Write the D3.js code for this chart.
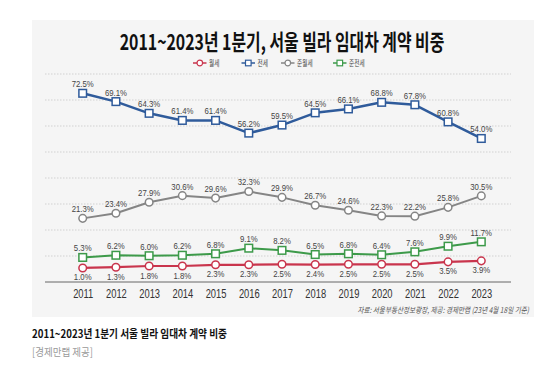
<!DOCTYPE html>
<html><head><meta charset="utf-8">
<script src="https://cdn.jsdelivr.net/npm/d3@7"></script>
<style>html,body{margin:0;padding:0;background:#fff;}svg{display:block;}</style>
</head><body>
<svg id="c" width="551" height="367"></svg>
<script>
const years = ["2011","2012","2013","2014","2015","2016","2017","2018","2019","2020","2021","2022","2023"];
const seriesNames = ["월세","전세","준월세","준전세"];
const wolse = [1.0,1.3,1.8,1.8,2.3,2.3,2.5,2.4,2.5,2.5,2.5,3.5,3.9];
const jeonse = [72.5,69.1,64.3,61.4,61.4,56.2,59.5,64.5,66.1,68.8,67.8,60.8,54.0];
const junwolse = [21.3,23.4,27.9,30.6,29.6,32.3,29.9,26.7,24.6,22.3,22.2,25.8,30.5];
const junjeonse = [5.3,6.2,6.0,6.2,6.8,9.1,8.2,6.5,6.8,6.4,7.6,9.9,11.7];
const title = "2011~2023년 1분기, 서울 빌라 임대차 계약 비중";
const sourceText = "자료: 서울부동산정보광장, 제공: 경제만랩 (23년 4월 18일 기준)";
const caption = "2011~2023년 1분기 서울 빌라 임대차 계약 비중";
const credit = "[경제만랩 제공]";

const series = [
  {name: seriesNames[0], values: wolse, color: "#c9354d", shape: "circle", below: true, lw: 2.2},
  {name: seriesNames[1], values: jeonse, color: "#2f5b9b", shape: "square", below: false, lw: 2.5},
  {name: seriesNames[2], values: junwolse, color: "#858585", shape: "circle", below: false, lw: 2},
  {name: seriesNames[3], values: junjeonse, color: "#3d9a4a", shape: "square", below: false, lw: 2}
];

const svg = d3.select("#c");
const KR = "'Noto Sans CJK KR','Noto Sans',sans-serif";
const NUM = "'Liberation Sans',Arial,sans-serif";

// fit a text to a target width by horizontal scaling (anchor-aware)
function fitText(sel, px, py, target) {
  const w = sel.node().getComputedTextLength();
  const k = w > 0 ? target / w : 1;
  sel.attr("x",0).attr("y",0).attr("transform",`translate(${px},${py}) scale(${k},1)`);
}

// panel
svg.append("rect").attr("x",32).attr("y",20).attr("width",502).attr("height",297).attr("fill","#f5f5f5");

// title
const tt = svg.append("text").attr("text-anchor","middle")
  .attr("font-family",KR).attr("font-weight",700).attr("font-size",21.5).attr("fill","#111").text(title);
fitText(tt, 282, 50, 325);

// scales
const x = d3.scalePoint().domain(years).range([82.7,481.3]);
const y = d3.scaleLinear().domain([-4.75,80.4]).range([282,74]);
const d0 = y.domain()[0], d1 = y.domain()[1];
const gridVals = d3.range(9).map(i => d0 + i*(d1-d0)/8);

// grid
svg.append("g").selectAll("line").data(gridVals.slice(1)).join("line")
  .attr("x1",45).attr("x2",511).attr("y1",d=>y(d)).attr("y2",d=>y(d))
  .attr("stroke","#c8c8c8").attr("stroke-width",0.8).attr("stroke-dasharray","1.5,1.5");
svg.append("line").attr("x1",45).attr("x2",511).attr("y1",y(d0)).attr("y2",y(d0))
  .attr("stroke","#666").attr("stroke-width",1);

// x axis
const xa = svg.append("g").attr("transform",`translate(0,${y(d0)})`)
  .call(d3.axisBottom(x).tickSize(0).tickPadding(0));
xa.select(".domain").remove();
xa.selectAll("text").attr("font-family",NUM).attr("font-size",12).attr("fill","#333")
  .attr("dy",0).attr("y",0).attr("x",0)
  .attr("transform", "translate(0,16) scale(0.78,1)");

// lines
const line = d3.line().x((d,i)=>x(years[i])).y(d=>y(d));
series.forEach(s => {
  const g = svg.append("g");
  g.append("path").datum(s.values).attr("d",line).attr("fill","none")
    .attr("stroke",s.color).attr("stroke-width",s.lw).attr("stroke-linejoin","round");
  if (s.shape === "circle") {
    g.selectAll("circle").data(s.values).join("circle")
      .attr("cx",(d,i)=>x(years[i])).attr("cy",d=>y(d)).attr("r",3.8)
      .attr("fill","#fff").attr("stroke",s.color).attr("stroke-width",1.5);
  } else {
    g.selectAll("rect").data(s.values).join("rect")
      .attr("x",(d,i)=>x(years[i])-3.8).attr("y",d=>y(d)-3.8).attr("width",7.6).attr("height",7.6)
      .attr("fill","#fff").attr("stroke",s.color).attr("stroke-width",1.5);
  }
  g.selectAll("text").data(s.values).join("text")
    .attr("transform",(d,i)=>`translate(${x(years[i])},${y(d) + (s.below ? 12.5 : -6)}) scale(0.82,1)`)
    .attr("text-anchor","middle").attr("font-family",NUM).attr("font-size",9.5).attr("fill","#444")
    .text(d=>d.toFixed(1)+"%");
});

// legend
const legX = [193, 241.5, 281, 333];
const lg = svg.append("g");
series.forEach((s,i) => {
  const g = lg.append("g").attr("transform",`translate(${legX[i]},63)`);
  g.append("line").attr("x1",0).attr("x2",13.5).attr("y1",0).attr("y2",0).attr("stroke",s.color).attr("stroke-width",1.5);
  if (s.shape==="circle") g.append("circle").attr("cx",6.8).attr("cy",0).attr("r",2.8).attr("fill","#fff").attr("stroke",s.color).attr("stroke-width",1.2);
  else g.append("rect").attr("x",4).attr("y",-2.8).attr("width",5.6).attr("height",5.6).attr("fill","#fff").attr("stroke",s.color).attr("stroke-width",1.2);
  const t = g.append("text").attr("font-family",KR).attr("font-size",8.5).attr("fill","#444").text(s.name);
  fitText(t, 16, 3, s.name.length*5.2);
});

// source
const st = svg.append("text").attr("text-anchor","end")
  .attr("font-family",KR).attr("font-size",8).attr("font-style","italic").attr("fill","#555").text(sourceText);
fitText(st, 529, 313, 172);

// caption
const ct = svg.append("text").attr("font-family",KR).attr("font-weight",700)
  .attr("font-size",11).attr("fill","#111").text(caption);
fitText(ct, 32, 338, 195);
const cr = svg.append("text").attr("font-family",KR)
  .attr("font-size",10.5).attr("fill","#999").text(credit);
fitText(cr, 32, 356, 61);
</script>
</body></html>
